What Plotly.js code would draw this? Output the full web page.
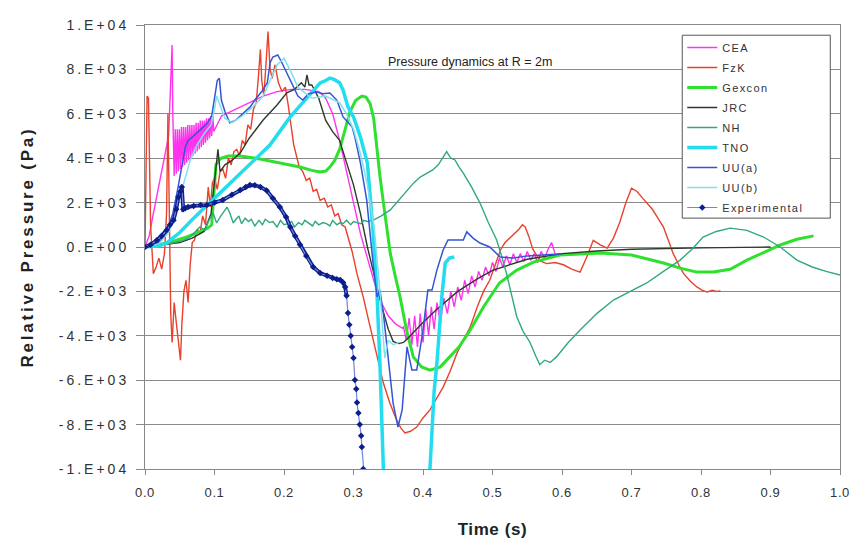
<!DOCTYPE html>
<html>
<head>
<meta charset="utf-8">
<script src="https://cdn.plot.ly/plotly-3.0.1.min.js"></script>
<style>
html,body{margin:0;padding:0;background:#fff;}
#chart{width:854px;height:549px;}
g.ytick text{letter-spacing:3px;}
g.xtick text{letter-spacing:0.6px;}
text.legendtext{letter-spacing:1.4px;}
text.ytitle{letter-spacing:2.8px;}
text.xtitle{letter-spacing:0.6px;}
</style>
</head>
<body>
<div id="chart"></div>
<script>
// ---- Data (time in s, relative pressure in Pa) ----
const xTickVals = [0,0.1,0.2,0.3,0.4,0.5,0.6,0.7,0.8,0.9,1.0];
const xTickText = ["0.0","0.1","0.2","0.3","0.4","0.5","0.6","0.7","0.8","0.9","1.0"];
const yTickVals = [10000,8000,6000,4000,2000,0,-2000,-4000,-6000,-8000,-10000];
const yTickText = ["1.E+04","8.E+03","6.E+03","4.E+03","2.E+03","0.E+00","-2.E+03","-4.E+03","-6.E+03","-8.E+03","-1.E+04"];

const seriesNames = ["CEA","FzK","Gexcon","JRC","NH","TNO","UU(a)","UU(b)","Experimental"];

const ceaT = [0,0.006,0.012,0.02,0.028,0.034,0.039,0.040,0.042,0.0435,0.045,0.0465,0.048,0.0495,0.051,0.0525,0.054,0.0555,0.057,0.0585,0.060,0.0615,0.063,0.0645,0.066,0.0675,0.069,0.0705,0.072,0.0735,0.075,0.0765,0.078,0.0795,0.081,0.0825,0.084,0.0855,0.087,0.0885,0.090,0.0915,0.093,0.0945,0.096,0.0975,0.099,0.102,0.11,0.13,0.15,0.17,0.19,0.21,0.23,0.25,0.26,0.27,0.28,0.29,0.30,0.31,0.32,0.33,0.34,0.35,0.36,0.37,
  0.372,0.376,0.380,0.384,0.388,0.392,0.396,0.400,0.404,0.408,0.412,0.416,0.420,0.425,0.430,0.435,0.440,0.445,0.450,0.455,0.460,0.465,0.470,0.475,0.480,0.485,0.490,0.495,0.500,0.505,0.510,0.515,0.520,0.525,0.530,0.535,0.540,0.545,0.550,0.555,0.560,0.565,0.570,0.575,0.580,0.585,0.590];
const ceaP = [0,500,1500,2800,4000,5000,9100,6000,3200,5300,3300,5300,3400,5300,3500,5400,3600,5400,3700,5400,3800,5500,3900,5500,4000,5500,4100,5500,4200,5600,4300,5600,4400,5700,4500,5700,4600,5700,4700,5800,4800,5800,4900,5900,5000,5900,5200,5400,5900,6200,6500,6800,7000,7100,7100,7000,6700,6000,4800,3400,2000,600,-500,-1600,-2500,-3100,-3450,-3650,
  -3600,-4200,-3200,-4400,-3100,-4500,-3000,-4300,-2800,-4000,-2700,-3700,-2500,-3400,-2300,-3000,-2000,-2700,-1800,-2400,-1500,-2100,-1300,-1800,-1100,-1500,-900,-1300,-700,-1100,-500,-900,-400,-800,-300,-700,-300,-650,-200,-600,-300,-700,-200,-500,-100,200,-300];

const fzkT = [0,0.003,0.005,0.008,0.012,0.016,0.020,0.024,0.028,0.031,0.033,0.035,0.037,0.039,0.042,0.045,0.048,0.051,0.053,0.056,0.059,0.062,0.065,0.068,0.071,0.075,0.079,0.083,0.087,0.091,0.094,0.097,0.100,0.104,0.108,0.112,0.116,0.120,0.124,0.128,0.132,0.136,0.140,0.144,0.148,0.152,0.156,0.160,0.163,0.166,0.168,0.171,0.174,0.177,0.180,0.183,0.187,0.192,0.197,0.202,0.206,0.210,0.214,0.218,0.222,0.227,0.232,0.237,0.242,0.247,0.252,0.258,0.263,0.268,0.273,0.278,0.283,0.288,0.293,0.298,0.305,0.314,0.321,0.328,0.336,0.343,0.352,0.362,0.368,0.374,0.382,0.391,0.400,0.410,0.420,0.429,0.439,0.449,0.458,0.468,0.478,0.487,0.496,0.505,0.512,0.518,0.525,0.532,0.538,0.543,0.547,0.552,0.558,0.564,0.570,0.578,0.590,0.602,0.614,0.626,0.635,0.645,0.655,0.665,0.674,0.683,0.692,0.700,0.708,0.716,0.722,0.730,0.738,0.746,0.753,0.760,0.768,0.775,0.785,0.794,0.802,0.809,0.816,0.822,0.828];
const fzkP = [0,6800,6700,1000,-1200,-900,-500,-1000,-300,1500,6000,2000,-3000,-4300,-2500,-3400,-4200,-5100,-3500,-2000,-1500,-2500,-800,200,300,800,600,1400,1000,2700,1800,2900,3100,2600,3400,3500,3100,4000,3700,4300,4400,4100,4800,4600,5500,5300,6200,6500,7600,8900,7500,6800,8200,9700,8000,7600,8200,7400,7000,7200,6400,5500,4600,4100,3600,3400,3000,3100,2500,2600,2100,2200,1800,1900,1400,1500,1000,900,400,-200,-1200,-2250,-3200,-4190,-5200,-6130,-7000,-7790,-8150,-8380,-8300,-8110,-7700,-7340,-6800,-6310,-5600,-4770,-4200,-3600,-2700,-2000,-1500,-700,-100,200,400,600,800,1000,900,500,-100,-400,-650,-750,-700,-800,-1000,-1130,-500,300,100,-50,400,1100,2000,2650,2500,2200,2000,1700,1300,900,300,-300,-800,-1200,-1550,-1800,-1950,-2030,-1950,-2000,-1980];

const gexT = [0,0.02,0.04,0.06,0.08,0.09,0.096,0.099,0.102,0.106,0.11,0.12,0.137,0.16,0.184,0.2,0.223,0.24,0.252,0.26,0.266,0.273,0.28,0.288,0.295,0.303,0.312,0.318,0.324,0.329,0.334,0.338,0.343,0.348,0.353,0.36,0.367,0.376,0.386,0.398,0.41,0.425,0.439,0.452,0.468,0.487,0.51,0.535,0.559,0.597,0.655,0.7,0.746,0.77,0.794,0.818,0.842,0.866,0.89,0.914,0.938,0.962];
const gexP = [0,100,250,450,700,850,1000,2500,3700,3900,4000,4100,4100,4000,3850,3750,3600,3450,3380,3420,3600,3900,4400,5300,6100,6600,6800,6750,6450,5800,4300,3200,2000,800,-300,-1300,-2250,-3700,-4950,-5400,-5550,-5400,-4950,-4500,-3740,-2700,-1620,-1040,-680,-360,-270,-360,-720,-950,-1130,-1130,-1000,-590,-250,90,350,500];

const jrcT = [0,0.03,0.05,0.068,0.085,0.095,0.100,0.105,0.108,0.115,0.125,0.137,0.15,0.17,0.19,0.204,0.215,0.225,0.230,0.233,0.236,0.240,0.25,0.26,0.27,0.28,0.29,0.30,0.31,0.32,0.33,0.34,0.35,0.357,0.365,0.372,0.38,0.40,0.42,0.45,0.48,0.50,0.55,0.60,0.65,0.70,0.80,0.90];
const jrcP = [0,100,200,400,700,1500,3000,4400,3400,3700,3900,4230,4900,5720,6400,6940,7100,7400,7200,7750,7300,7300,6700,5700,5200,4800,3800,2800,1500,0,-1300,-2600,-3700,-4250,-4350,-4300,-4050,-3400,-2800,-2000,-1400,-1050,-550,-300,-180,-100,-40,0];

const nhT = [0,0.02,0.04,0.055,0.065,0.072,0.079,0.086,0.092,0.098,0.103,0.108,0.113,0.118,0.122,0.127,0.131,0.135,0.139,0.144,0.149,0.153,0.158,0.164,0.169,0.173,0.179,0.184,0.19,0.195,0.2,0.206,0.211,0.215,0.221,0.226,0.23,0.236,0.241,0.245,0.25,0.256,0.261,0.266,0.27,0.276,0.281,0.285,0.29,0.296,0.3,0.305,0.311,0.315,0.32,0.328,0.34,0.353,0.365,0.377,0.387,0.396,0.405,0.414,0.422,0.428,0.434,0.44,0.446,0.452,0.458,0.47,0.482,0.494,0.506,0.513,0.52,0.527,0.535,0.544,0.554,0.562,0.568,0.575,0.583,0.592,0.609,0.626,0.65,0.674,0.698,0.722,0.746,0.77,0.787,0.803,0.822,0.842,0.866,0.89,0.914,0.938,0.96,0.98,1.0];
const nhP = [0,80,180,300,450,680,900,750,1200,1530,1080,1350,1600,1800,1530,1080,1250,1400,1050,1300,1150,1250,950,1200,1000,1250,1100,1150,900,1200,1000,1050,1150,900,1100,1000,1200,1050,950,1150,1000,1100,1050,950,1200,1000,1100,1050,1200,1000,1150,1100,1050,1200,1150,1200,1400,1670,2100,2570,2900,3150,3300,3470,3700,4000,4300,4000,3920,3600,3330,2700,1980,1100,315,-400,-1170,-2100,-3150,-3800,-4300,-4900,-5300,-5100,-5200,-4950,-4300,-3740,-3000,-2390,-2000,-1620,-1100,-590,-100,450,700,850,750,450,0,-590,-900,-1100,-1260];

const tnoT = [0,0.02,0.03,0.05,0.07,0.09,0.11,0.137,0.16,0.18,0.209,0.23,0.252,0.26,0.266,0.272,0.28,0.285,0.292,0.30,0.31,0.32,0.328,0.334,0.338,0.343,0.348,0.405,0.41,0.416,0.42,0.427,0.432,0.438,0.445];
const tnoP = [0,50,150,650,1300,1900,2500,3300,4000,4600,5860,6600,7390,7500,7610,7550,7400,7070,6310,5860,4950,3780,770,-2250,-5230,-10000,-12000,-12000,-10000,-6500,-5230,-2250,-720,-500,-450];

const uuaT = [0,0.02,0.03,0.04,0.047,0.053,0.058,0.062,0.07,0.08,0.09,0.096,0.1,0.104,0.107,0.11,0.115,0.122,0.13,0.14,0.151,0.16,0.168,0.176,0.18,0.184,0.191,0.197,0.204,0.213,0.22,0.227,0.235,0.247,0.256,0.266,0.276,0.285,0.298,0.302,0.31,0.319,0.324,0.329,0.334,0.338,0.343,0.348,0.352,0.357,0.364,0.37,0.377,0.384,0.391,0.4,0.407,0.413,0.42,0.429,0.436,0.446,0.458,0.463,0.472,0.482,0.496,0.511,0.53,0.55,0.578,0.6];
const uuaP = [0,200,600,1500,2600,3700,4500,4800,5000,5300,5600,5900,6800,7500,7600,6600,6100,5600,5700,6000,6300,6700,7000,7400,8300,8560,8650,8300,7840,7200,6800,6620,6900,6980,6900,6940,6620,5860,5410,4950,3780,2120,450,-1000,-2250,-1940,-3000,-4500,-5800,-7030,-8110,-7340,-4500,-5540,-5540,-3740,-1940,-1940,-1040,-135,315,300,315,680,400,180,0,-450,-500,-400,-360,-300];

const uubT = [0,0.02,0.035,0.045,0.055,0.065,0.075,0.085,0.095,0.1,0.103,0.108,0.115,0.125,0.14,0.155,0.17,0.18,0.19,0.2,0.21,0.22,0.24,0.26,0.28,0.29,0.3,0.31,0.32,0.33,0.338,0.345,0.35,0.357,0.365];
const uubP = [0,150,700,1600,2800,3900,4600,5100,5500,6200,6800,6400,5800,5600,5900,6300,6800,7500,8200,8500,7900,7200,6700,6800,6500,6000,5300,4200,2800,800,-2000,-5000,-4200,-4400,-4300];

const expT = [0,0.008,0.017,0.024,0.031,0.036,0.041,0.045,0.048,0.051,0.053,0.055,0.058,0.062,0.07,0.08,0.089,0.1,0.112,0.125,0.137,0.145,0.151,0.158,0.166,0.175,0.184,0.194,0.203,0.209,0.216,0.223,0.232,0.242,0.252,0.262,0.27,0.276,0.281,0.285,0.288,0.290,0.292,0.294,0.296,0.298,0.300,0.302,0.304,0.305,0.307,0.309,0.311,0.312,0.314,0.316];
const expP = [0,100,300,500,750,1000,1200,1700,2250,2500,2700,1700,1750,1800,1850,1890,1890,2000,2120,2350,2570,2700,2790,2780,2700,2550,2200,1800,1350,900,500,100,-400,-900,-1170,-1300,-1400,-1450,-1490,-1600,-1800,-2200,-2970,-3500,-4000,-4500,-5000,-5990,-6400,-7000,-7480,-8000,-8500,-9010,-10000,-10500];
const expDenseEnd = 0.29; // where the recorded points become sparse in the picture

const seriesT = [ceaT,fzkT,gexT,jrcT,nhT,tnoT,uuaT,uubT,expT];
const seriesP = [ceaP,fzkP,gexP,jrcP,nhP,tnoP,uuaP,uubP,expP];
const seriesColor = ["#ff33ee","#e8412c","#2fe02f","#2b3a2b","#30a880","#22ddf0","#3355d5","#80e0ee","#0c1e8c"];
const seriesWidth = [1.4,1.4,3,1.4,1.4,3.5,1.5,1.5,1.2];

const traces = [];
seriesNames.forEach((n,i)=>{
  if(n==="Experimental"){
    const idx = seriesT[i].map((t,k)=>k).filter(k=>seriesT[i][k]<=expDenseEnd);
    traces.push({type:"scatter", mode:"lines", x:idx.map(k=>seriesT[i][k]), y:idx.map(k=>seriesP[i][k]),
      line:{color:seriesColor[i], width:3.8}, showlegend:false, hoverinfo:"skip"});
    traces.push({type:"scatter", mode:"lines+markers", x:seriesT[i], y:seriesP[i], name:n, legendgroup:n,
      line:{color:"#7486d8", width:1.2}, marker:{color:seriesColor[i], size:5, symbol:"diamond"}});
  } else {
    traces.push({type:"scatter", mode:"lines", x:seriesT[i], y:seriesP[i], name:n, legendgroup:n,
      line:{color:seriesColor[i], width:seriesWidth[i]}});
  }
});

const font = "Liberation Sans, Arial, sans-serif";
const layout = {
  width:854, height:549,
  margin:{l:145, r:14, t:25, b:80},
  paper_bgcolor:"#fff", plot_bgcolor:"#fff",
  font:{family:font, color:"#222", size:12},
  showlegend:true,
  legend:{x:0.773, y:0.982, xanchor:"left", yanchor:"top", bgcolor:"rgba(0,0,0,0)", borderwidth:0,
          font:{family:font, size:11, color:"#333"}, tracegroupgap:1, itemwidth:30},
  xaxis:{range:[0,1], tickvals:xTickVals, ticktext:xTickText, showgrid:false, zeroline:false,
         showline:true, linecolor:"#888", linewidth:1, mirror:true, ticks:"outside", ticklen:5, tickcolor:"#888",
         ticklabelstandoff:6,
         tickfont:{family:font, size:13, color:"#333"},
         title:{text:"<b>Time (s)</b>", font:{family:font, size:17, color:"#222"}, standoff:24}},
  yaxis:{range:[-10000,10000], tickvals:yTickVals, ticktext:yTickText, showgrid:true, gridcolor:"#8a8a8a", gridwidth:1,
         zeroline:false, showline:true, linecolor:"#888", linewidth:1, mirror:true, ticks:"outside", ticklen:8, tickcolor:"#888",
         ticklabelstandoff:4,
         tickfont:{family:font, size:14, color:"#333"},
         title:{text:"<b>Relative Pressure (Pa)</b>", font:{family:font, size:17, color:"#222"}, standoff:20}},
  shapes:[{type:"rect", xref:"paper", yref:"paper", x0:0.773, x1:0.986, y0:0.565, y1:0.977,
           line:{color:"#555", width:1}, fillcolor:"#fff", layer:"above"}],
  annotations:[{xref:"paper", yref:"paper", x:0.468, y:0.917, text:"Pressure dynamics at R = 2m", showarrow:false,
                font:{family:font, size:12.5, color:"#222"}, xanchor:"center", yanchor:"middle"}]
};
Plotly.newPlot("chart", traces, layout, {staticPlot:true});
</script>
</body>
</html>
